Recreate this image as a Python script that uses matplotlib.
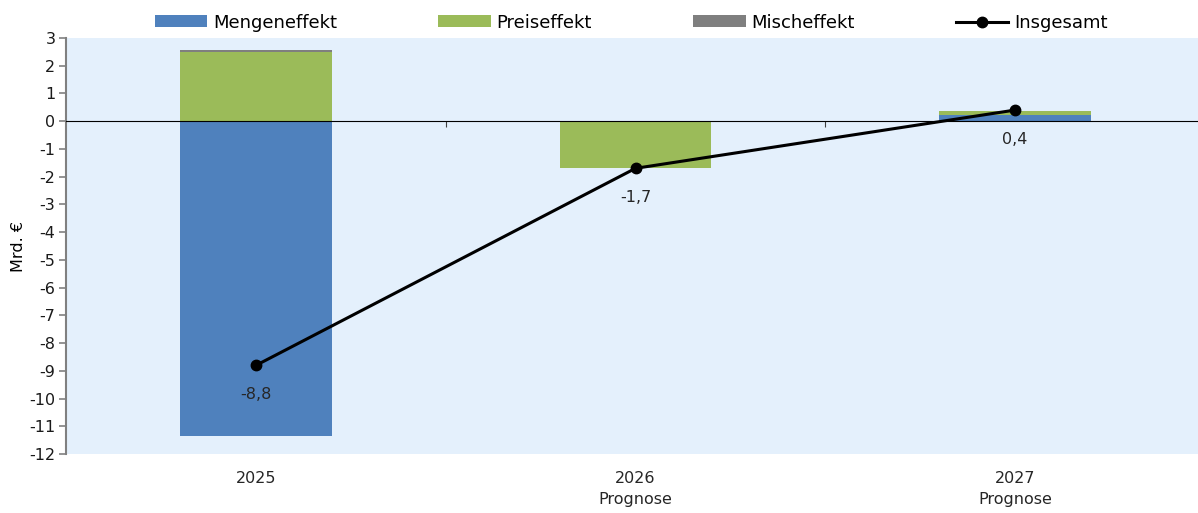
import numpy as np
import matplotlib
matplotlib.use("Agg")
from matplotlib import pyplot as plt
import matplotlib.transforms as mtransforms

plt.rcParams['font.family'] = ['DejaVu Sans']
plt.rcParams['axes.unicode_minus'] = False

years = ['2025', '2026\nPrognose', '2027\nPrognose']
menge = [-11.35, 0.0, 0.24]
preis = [2.50, -1.70, 0.14]
misch = [0.05, 0.0, 0.0]
gesamt = [-8.8, -1.7, 0.4]

c_menge = '#4F81BD'
c_preis = '#9BBB59'
c_misch = '#7F7F7F'

fig = plt.figure(figsize=(11.98, 5.13), dpi=100)
# plot area runs past the right edge of the picture, like the original
ax = fig.add_axes([0.0555, 0.115, 0.95, 0.811])
ax.set_facecolor('#E4F0FC')

x = np.arange(len(years))
w = 0.4

pos_base = np.zeros(3)
neg_base = np.zeros(3)
handles = []
for vals, col, name in [(menge, c_menge, 'Mengeneffekt'), (preis, c_preis, 'Preiseffekt'), (misch, c_misch, 'Mischeffekt')]:
    vals = np.array(vals)
    bottoms = np.where(vals >= 0, pos_base, neg_base)
    b = ax.bar(x, vals, w, bottom=bottoms, color=col, label=name, edgecolor='none', zorder=2)
    handles.append(b)
    pos_base = pos_base + np.where(vals >= 0, vals, 0)
    neg_base = neg_base + np.where(vals < 0, vals, 0)

ln, = ax.plot(x, gesamt, color='black', lw=2.2, marker='o', ms=7.5, zorder=4, label='Insgesamt')
handles.append(ln)

for xi, v in zip(x, gesamt):
    ax.annotate(('%.1f' % v).replace('.', ','), (xi, v), xytext=(0, -21), textcoords='offset points',
                ha='center', va='center', fontsize=11.5, color='#262626', zorder=5)

ax.set_xlim(-0.5, 2.5)
ax.set_ylim(-12, 3)
ax.set_yticks(range(-12, 4))
ax.set_yticklabels([str(t) for t in range(-12, 4)])
ax.tick_params(axis='y', labelsize=11.5, labelcolor='#1a1a1a', length=5, color='#808080', width=1.2, pad=3)
ax.spines['left'].set_color('#808080')
ax.spines['left'].set_linewidth(1.5)
ax.spines['right'].set_visible(False)
ax.spines['top'].set_visible(False)
ax.spines['bottom'].set_position(('data', 0))
ax.spines['bottom'].set_color('black')
ax.spines['bottom'].set_zorder(3)
ax.set_xticks([0.5, 1.5])
ax.set_xticklabels([])
ax.tick_params(axis='x', length=4, color='#404040', direction='out')

trans = mtransforms.blended_transform_factory(ax.transData, ax.transAxes)
for xi, lab in zip(x, years):
    ax.text(xi, -0.04, lab, transform=trans, ha='center', va='top', fontsize=11.5, color='#262626',
            linespacing=1.5)

ax.set_ylabel('Mrd. €', fontsize=11.5, labelpad=2)

fig.legend(handles=handles, labels=['Mengeneffekt', 'Preiseffekt', 'Mischeffekt', 'Insgesamt'],
           loc='center', bbox_to_anchor=(0.527, 0.956), ncol=4, frameon=False, fontsize=13,
           handlelength=2.9, handleheight=0.6, handletextpad=0.33, columnspacing=5.6,
           borderpad=0, borderaxespad=0)

fig.savefig('out.png', dpi=100)
